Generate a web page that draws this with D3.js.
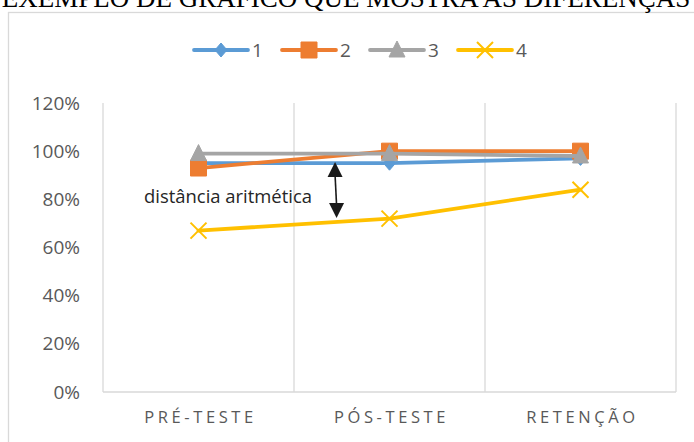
<!DOCTYPE html>
<html>
<head>
<meta charset="utf-8">
<script src="https://cdn.jsdelivr.net/npm/d3@7"></script>
<style>
  html, body { margin: 0; padding: 0; background: #fff; }
  svg { display: block; }
</style>
</head>
<body>
<svg id="chart" width="694" height="442"></svg>
<script>
// Stages of the assessment
const categories = ["PRÉ-TESTE", "PÓS-TESTE", "RETENÇÃO"];

// One array per group (proportion of correct answers)
const serie1 = [0.95, 0.95, 0.97];
const serie2 = [0.93, 1.00, 1.00];
const serie3 = [0.99, 0.99, 0.98];
const serie4 = [0.67, 0.72, 0.84];

const seriesNames = ["1", "2", "3", "4"];
const seriesColors = ["#5B9BD5", "#ED7D31", "#A5A5A5", "#FFC000"];
const seriesMarkers = ["diamond", "square", "triangle", "cross"];

const yTicks = [0, 0.2, 0.4, 0.6, 0.8, 1.0, 1.2];

const title = "EXEMPLO DE GRÁFICO QUE MOSTRA AS DIFERENÇAS";
const annotation = "distância aritmética";
// Gap marked by the arrow: between group 1 and group 4, just before the post-test
const arrowSpan = { from: 0.955, to: 0.722, at: 0.715 };

const allSeries = [serie1, serie2, serie3, serie4];

const svg = d3.select("#chart");
const sans = "'Open Sans', 'Noto Sans', sans-serif";

// Chart frame
svg.append("rect")
  .attr("x", 8.5).attr("y", 12.5)
  .attr("width", 800).attr("height", 600)
  .attr("fill", "#fff").attr("stroke", "#D9D9D9").attr("stroke-width", 1.3);

// Title (sits above the frame, partly outside the page)
svg.append("text")
  .attr("x", 346).attr("y", 7)
  .attr("text-anchor", "middle")
  .attr("font-family", "'Liberation Serif', 'Times New Roman', serif")
  .attr("font-size", 27)
  .attr("fill", "#000")
  .text(title);

const plot = { left: 103, right: 676, top: 103, bottom: 392 };

const x = d3.scaleBand().domain(categories).range([plot.left, plot.right]).padding(0);
const y = d3.scaleLinear().domain([0, 1.2]).range([plot.bottom, plot.top]);
const cx = c => x(c) + x.bandwidth() / 2;

// Vertical gridlines at category boundaries
const bounds = categories.map(c => x(c)).concat([plot.right]);
svg.append("g").selectAll("line").data(bounds).join("line")
  .attr("x1", d => d).attr("x2", d => d)
  .attr("y1", y(1.2)).attr("y2", y(0))
  .attr("stroke", "#D9D9D9").attr("stroke-width", 1.3);

// Category axis line
svg.append("line")
  .attr("x1", plot.left).attr("x2", plot.right)
  .attr("y1", y(0)).attr("y2", y(0))
  .attr("stroke", "#D9D9D9").attr("stroke-width", 1.3);

// Value axis labels
const yAxis = d3.axisLeft(y).tickValues(yTicks).tickFormat(d3.format(".0%")).tickSize(0).tickPadding(0);
const gy = svg.append("g").attr("transform", `translate(80,0)`).call(yAxis);
gy.select(".domain").remove();
gy.selectAll("text")
  .attr("font-family", sans).attr("font-size", 19).attr("fill", "#595959");

// Category labels
const xAxis = d3.axisBottom(x).tickSize(0).tickPadding(0);
const gx = svg.append("g").attr("transform", `translate(2,${y(0) + 19})`).call(xAxis);
gx.select(".domain").remove();
gx.selectAll("text")
  .attr("font-family", sans).attr("font-size", 16.5).attr("fill", "#595959")
  .attr("letter-spacing", "3.6px")
  .attr("dy", "0.71em");

// Marker shapes
function markerPath(type) {
  switch (type) {
    case "diamond": return "M0,-7L6,0L0,7L-6,0Z";
    case "square": return "M-8,-8H8V8H-8Z";
    case "triangle": return "M0,-9L8,7H-8Z";
    case "cross": return "M-8,-8L8,8M8,-8L-8,8";
  }
}
function drawMarker(g, type, color, px, py) {
  const p = g.append("path")
    .attr("d", markerPath(type))
    .attr("transform", `translate(${px},${py})`);
  if (type === "cross") {
    p.attr("fill", "none").attr("stroke", color).attr("stroke-width", 2);
  } else {
    p.attr("fill", color).attr("stroke", color).attr("stroke-width", 1);
  }
}

// Series lines with markers
const line = d3.line().x((d, i) => cx(categories[i])).y(d => y(d));
allSeries.forEach((vals, s) => {
  const g = svg.append("g");
  g.append("path").datum(vals)
    .attr("d", line)
    .attr("fill", "none")
    .attr("stroke", seriesColors[s])
    .attr("stroke-width", 3.8)
    .attr("stroke-linejoin", "round")
    .attr("stroke-linecap", "round");
  vals.forEach((v, i) => drawMarker(g, seriesMarkers[s], seriesColors[s], cx(categories[i]), y(v)));
});

// Legend
const legend = svg.append("g");
const legendX0 = 194, legendStep = 88, legendY = 50, legendLen = 54;
seriesNames.forEach((name, s) => {
  const lx = legendX0 + s * legendStep;
  const g = legend.append("g");
  g.append("line")
    .attr("x1", lx).attr("x2", lx + legendLen)
    .attr("y1", legendY).attr("y2", legendY)
    .attr("stroke", seriesColors[s]).attr("stroke-width", 3.8)
    .attr("stroke-linecap", "round");
  drawMarker(g, seriesMarkers[s], seriesColors[s], lx + legendLen / 2, legendY);
  g.append("text")
    .attr("x", lx + legendLen + 4).attr("y", legendY)
    .attr("dy", "0.35em")
    .attr("font-family", sans).attr("font-size", 19).attr("fill", "#595959")
    .text(name);
});

// Double-headed arrow marking the gap between the groups
const ax = cx(categories[0]) + arrowSpan.at * (cx(categories[1]) - cx(categories[0]));
const yTop = y(arrowSpan.from), yBot = y(arrowSpan.to);
const headL = 15, headW = 7.5;
const arrow = svg.append("g");
arrow.append("line")
  .attr("x1", ax).attr("x2", ax + 1.5)
  .attr("y1", yTop + headL - 2).attr("y2", yBot - headL + 2)
  .attr("stroke", "#1a1a1a").attr("stroke-width", 1.6);
arrow.append("path")
  .attr("d", `M${ax},${yTop}L${ax + headW},${yTop + headL}L${ax - headW},${yTop + headL}Z`)
  .attr("fill", "#1a1a1a");
arrow.append("path")
  .attr("d", `M${ax + 1.5},${yBot}L${ax + 1.5 + headW},${yBot - headL}L${ax + 1.5 - headW},${yBot - headL}Z`)
  .attr("fill", "#1a1a1a");

// Annotation text
svg.append("text")
  .attr("x", 144).attr("y", 203)
  .attr("font-family", sans).attr("font-size", 18).attr("fill", "#262626")
  .attr("textLength", 168).attr("lengthAdjust", "spacingAndGlyphs")
  .text(annotation);
</script>
</body>
</html>
